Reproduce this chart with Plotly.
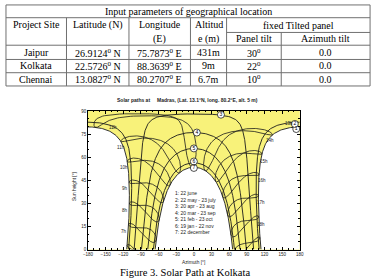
import numpy as np
import plotly.graph_objects as go

# ------------------------------------------------------------------ data
TABLE_TITLE = "Input parameters of geographical location"
HEADER_TOP = ["Project Site", "Latitude (N)", "Longitude", "Altitud", "fixed Tilted panel"]
HEADER_BOTTOM = ["(E)", "e (m)", "Panel tilt", "Azimuth tilt"]
SITES = ["Jaipur", "Kolkata", "Chennai"]
LATITUDES = ["26.9124", "22.5726", "13.0827"]
LONGITUDES = ["75.7873", "88.3639", "80.2707"]
ALTITUDES = ["431m", "9m", "6.7m"]
PANEL_TILTS = ["30", "22", "10"]
AZIMUTH_TILTS = ["0.0", "0.0", "0.0"]

SITE_NAME = "Madras"
SITE_LAT = 13.1
SITE_LON = 80.2
SITE_ALT_M = 5
TIME_ZONE = 5.5
DATE_NUMBERS = ["1", "2", "3", "4", "5", "6", "7"]
DATE_TEXT = ["22 june", "22 may - 23 july", "20 apr - 23 aug", "20 mar - 23 sep",
             "21 feb - 23 oct", "19 jan - 22 nov", "22 december"]
DATE_DAY_OF_YEAR = [173, 142, 110, 79, 52, 19, 356]
HOURS = [6, 7, 8, 9, 10, 11, 12, 13, 14, 15, 16, 17, 18]
HOUR_LABELS = ["7h", "8h", "9h", "10h", "11h", "12h", "13h", "14h", "15h", "16h", "17h", "18h"]
X_TICKS = [-180, -150, -120, -90, -60, -30, 0, 30, 60, 90, 120, 150, 180]
Y_TICKS = [0, 15, 30, 45, 60, 75, 90]
CAPTION = "Figure 3. Solar Path at Kolkata"

# label placement (azimuth, height)
HOUR_LABEL_POS = [(-118, 12), (-117, 25.5), (-117, 39.5), (-118, 53), (-124, 66), (-138, 79),
                  (161, 82), (130, 71), (119, 57.5), (115, 45), (114, 30.5), (114, 16.5)]
DATE_LABEL_POS = [(174, 78.3), (171.5, 81.6), (46, 87.6), (5, 76), (0, 65.7), (0, 57.2), (0, 53)]

# ------------------------------------------------------------------ helpers
W, H = 377, 280
def PX(x): return x / W
def PY(y): return 1 - y / H

phi = np.radians(SITE_LAT)

def declination(n):
    return 23.45 * np.sin(np.radians(360.0 * (284 + np.asarray(n, float)) / 365.0))

def eot(n):
    B = np.radians(360.0 * (np.asarray(n, float) - 81) / 364.0)
    return 9.87 * np.sin(2 * B) - 7.53 * np.cos(B) - 1.5 * np.sin(B)

def sun(delta_deg, omega_deg):
    d = np.radians(delta_deg)
    w = np.radians(omega_deg)
    s = np.sin(phi) * np.sin(d) + np.cos(phi) * np.cos(d) * np.cos(w)
    alt = np.degrees(np.arcsin(np.clip(s, -1, 1)))
    az = np.degrees(np.arctan2(np.sin(w), np.cos(w) * np.sin(phi) - np.tan(d) * np.cos(phi)))
    return az, alt

def day_path(n):
    d = float(declination(n))
    ws = np.degrees(np.arccos(-np.tan(phi) * np.tan(np.radians(d))))
    left = np.linspace(-ws, 0, 241)
    right = np.linspace(0, ws, 241)
    azl, hl = sun(d, left)
    azr, hr = sun(d, right)
    hl[0] = 0.0
    hr[-1] = 0.0
    if d > SITE_LAT:
        azl[-1] = -180.0
        azr[0] = 180.0
        return [(azl, hl), (azr, hr)]
    azl[-1] = 0.0
    azr[0] = 0.0
    return [(np.concatenate([azl, azr[1:]]), np.concatenate([hl, hr[1:]]))]

def hour_line(hour):
    k = np.arange(0, 366)
    n = (355 + k) % 365 + 1
    d = declination(n)
    st = hour + (SITE_LON - 15 * TIME_ZONE) / 15.0 + eot(n) / 60.0
    az, alt = sun(d, 15 * (st - 12))
    xs, ys, prev = [], [], None
    for a, h in zip(az, alt):
        if h < -8:
            if xs and xs[-1] is not None:
                xs.append(None); ys.append(None)
            prev = None
            continue
        if prev is not None and abs(a - prev) > 180:
            xs.append(None); ys.append(None)
        xs.append(float(a)); ys.append(float(h)); prev = a
    return xs, ys

# ------------------------------------------------------------------ figure
fig = go.Figure()
YELLOW = "#F8F27A"
LINE = "#1c1c1c"
SANS = "Liberation Sans, Arial"

for n in (DATE_DAY_OF_YEAR[0], DATE_DAY_OF_YEAR[-1]):
    for az, h in day_path(n):
        xs = list(az) + [az[-1], az[0]]
        ys = list(h) + [0, 0]
        fig.add_trace(go.Scatter(x=xs, y=ys, fill="toself", fillcolor="white",
                                 mode="none", hoverinfo="skip"))

for hr in HOURS:
    xs, ys = hour_line(hr)
    fig.add_trace(go.Scatter(x=xs, y=ys, mode="lines", line=dict(color=LINE, width=0.8),
                             hoverinfo="skip"))

for n in DATE_DAY_OF_YEAR:
    for az, h in day_path(n):
        fig.add_trace(go.Scatter(x=az, y=h, mode="lines", line=dict(color=LINE, width=0.9),
                                 hoverinfo="skip"))

fig.add_trace(go.Scatter(
    x=[p[0] for p in DATE_LABEL_POS], y=[p[1] for p in DATE_LABEL_POS],
    mode="markers+text", text=DATE_NUMBERS, textposition="middle center",
    textfont=dict(size=5, color="black", family=SANS),
    marker=dict(size=7, color="white", line=dict(color="black", width=0.7)),
    cliponaxis=False, hoverinfo="skip"))

ann = []
for txt, (a, h) in zip(HOUR_LABELS, HOUR_LABEL_POS):
    ann.append(dict(x=a, y=h, xref="x", yref="y", text=txt, showarrow=False,
                    xanchor="center", yanchor="middle",
                    font=dict(size=4.5, color="#222", family=SANS)))

ann.append(dict(x=PX(172), y=PY(189), xref="paper", yref="paper", xanchor="left", yanchor="top",
                align="left", showarrow=False,
                text="<br>".join(f"{a}: {b}" for a, b in zip(DATE_NUMBERS, DATE_TEXT)),
                font=dict(size=5, color="#222", family=SANS)))

def pann(txt, x, y, font, **kw):
    d = dict(x=PX(x), y=PY(y), xref="paper", yref="paper", text=txt, showarrow=False,
             xanchor="center", yanchor="middle", font=font)
    d.update(kw)
    ann.append(d)

pann(f"<b>Solar paths at     {SITE_NAME}, (Lat. {SITE_LAT}°N, long. {SITE_LON}°E, alt. {SITE_ALT_M} m)</b>",
     187, 99.5, dict(size=5, color="#222", family=SANS))
pann("Sun height [°]", 71, 188, dict(size=4.8, color="#222", family=SANS), textangle=-90)
pann("Azimuth [°]", 193, 265, dict(size=4.8, color="#222", family=SANS))
pann(CAPTION, 184, 275, dict(size=10.5, color="black", family="Liberation Serif, serif"))

# ------------------------------------------------------------------ table
TF = dict(size=10, color="black", family="Liberation Serif, serif")
col_edges = [1, 63, 127, 190, 227, 283, 374]
col_mid = [(col_edges[i] + col_edges[i + 1]) / 2 for i in range(6)]
row_lines = [3, 16, 44, 58.5, 72, 85.5]
shapes = []
LC = dict(color="#707070", width=1)
for yy in row_lines:
    shapes.append(dict(type="line", xref="paper", yref="paper", x0=PX(col_edges[0]), x1=PX(col_edges[-1]),
                       y0=PY(yy), y1=PY(yy), line=LC))
shapes.append(dict(type="line", xref="paper", yref="paper", x0=PX(227), x1=PX(374),
                   y0=PY(31), y1=PY(31), line=LC))
for xx in (col_edges[0], col_edges[-1]):
    shapes.append(dict(type="line", xref="paper", yref="paper", x0=PX(xx), x1=PX(xx),
                       y0=PY(3), y1=PY(85.5), line=LC))
for xx in col_edges[1:5]:
    shapes.append(dict(type="line", xref="paper", yref="paper", x0=PX(xx), x1=PX(xx),
                       y0=PY(16), y1=PY(85.5), line=LC))
shapes.append(dict(type="line", xref="paper", yref="paper", x0=PX(283), x1=PX(283),
                   y0=PY(31), y1=PY(85.5), line=LC))

pann(TABLE_TITLE, 187.5, 9.5, TF)
for i, t in enumerate(HEADER_TOP[:4]):
    pann(t, col_mid[i], 23, TF)
pann(HEADER_TOP[4], (227 + 374) / 2, 23.5, TF)
pann(HEADER_BOTTOM[0], col_mid[2], 37.5, TF)
pann(HEADER_BOTTOM[1], col_mid[3], 37.5, TF)
pann(HEADER_BOTTOM[2], col_mid[4], 37.5, TF)
pann(HEADER_BOTTOM[3], col_mid[5], 37.5, TF)
row_y = [51.5, 65, 78.8]
for r in range(3):
    vals = [SITES[r], f"{LATITUDES[r]}<sup>0</sup> N", f"{LONGITUDES[r]}<sup>0</sup> E",
            ALTITUDES[r], f"{PANEL_TILTS[r]}<sup>0</sup>", AZIMUTH_TILTS[r]]
    for c, v in enumerate(vals):
        pann(v, col_mid[c], row_y[r], TF)

# ------------------------------------------------------------------ layout
axfont = dict(size=4.5, color="#222", family=SANS)
fig.update_layout(
    width=W, height=H, autosize=False, margin=dict(l=0, r=0, t=0, b=0),
    paper_bgcolor="white", plot_bgcolor=YELLOW, showlegend=False,
    annotations=ann, shapes=shapes,
    xaxis=dict(domain=[PX(85), PX(302)], range=[-180, 180], tickvals=X_TICKS,
               ticks="inside", ticklen=3, tickwidth=0.7, tickcolor="black",
               showline=True, linecolor="black", linewidth=0.8, mirror="allticks",
               showgrid=False, zeroline=False, tickfont=axfont,
               minor=dict(dtick=10, ticks="inside", ticklen=1.5, tickcolor="black", tickwidth=0.5)),
    yaxis=dict(domain=[PY(252), PY(111)], range=[0, 90], tickvals=Y_TICKS,
               ticks="inside", ticklen=3, tickwidth=0.7, tickcolor="black",
               showline=True, linecolor="black", linewidth=0.8, mirror="allticks",
               showgrid=False, zeroline=False, tickfont=axfont,
               minor=dict(dtick=5, ticks="inside", ticklen=1.5, tickcolor="black", tickwidth=0.5)),
)

fig.write_html("out.html")
